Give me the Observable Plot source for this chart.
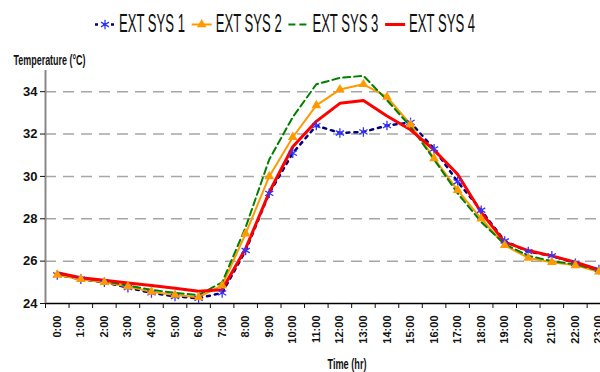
<!DOCTYPE html>
<html><head><meta charset="utf-8">
<script src="https://cdn.jsdelivr.net/npm/d3@7"></script>
<script src="https://cdn.jsdelivr.net/npm/@observablehq/plot@0.6"></script>
<style>
html,body{margin:0;padding:0;background:#fff;overflow:hidden;width:600px;height:372px}
svg{display:block}
</style></head><body>
<div id="legend"></div><div id="chart"></div>
<script>
// ---- data ----
const hours = d3.range(24);
const timeLabels = hours.map(h => h + ":00");
const seriesNames = ["EXT SYS 1", "EXT SYS 2", "EXT SYS 3", "EXT SYS 4"];
const sys1 = [25.35, 25.15, 25.0, 24.75, 24.5, 24.33, 24.25, 24.5, 26.5, 29.2, 31.1, 32.4, 32.05, 32.1, 32.4, 32.55, 31.3, 29.75, 28.4, 26.95, 26.45, 26.25, 25.9, 25.6];
const sys2 = [25.35, 25.15, 25.0, 24.8, 24.55, 24.4, 24.3, 24.85, 27.3, 30.0, 31.85, 33.35, 34.1, 34.35, 33.75, 32.45, 30.85, 29.35, 28.0, 26.75, 26.15, 25.95, 25.8, 25.5];
const sys3 = [25.4, 25.2, 25.05, 24.85, 24.65, 24.5, 24.4, 25.0, 27.6, 30.8, 32.8, 34.35, 34.65, 34.75, 33.6, 32.35, 30.8, 29.2, 27.85, 26.8, 26.25, 26.0, 25.85, 25.55];
const sys4 = [25.45, 25.22, 25.1, 24.97, 24.85, 24.72, 24.58, 24.65, 26.6, 29.25, 31.4, 32.6, 33.45, 33.58, 32.85, 32.2, 31.25, 30.1, 28.3, 26.9, 26.5, 26.25, 25.95, 25.6];
const yTicks = [24, 26, 28, 30, 32, 34];
const yLabel = "Temperature (°C)";
const xLabel = "Time (hr)";

// ---- styles ----
const styles = [
  {stroke: "#000080", width: 2.5, dash: "3,5", marker: "asterisk", markerColor: "#3333ff"},
  {stroke: "#ff9900", width: 2, dash: null, marker: "triangle", markerColor: "#ff9900"},
  {stroke: "#008000", width: 2, dash: "7,4", marker: null},
  {stroke: "#ff0000", width: 3, dash: null, marker: null}
];
const font = "'Liberation Sans', Arial, sans-serif";
const narrow = "'Liberation Sans Narrow', 'Arial Narrow', 'Liberation Sans', sans-serif";

const allSeries = [sys1, sys2, sys3, sys4];
const rows = allSeries.map(arr => arr.map((v, i) => ({hour: hours[i], temp: v})));

// ---- legend ----
const lg = d3.create("svg").attr("width", 600).attr("height", 45)
  .attr("font-family", font);
document.getElementById("legend").appendChild(lg.node());
seriesNames.forEach((name, k) => {
  const s = styles[k];
  const g = lg.append("g").attr("transform", `translate(${95 + k * 96.7},0)`);
  g.append("line").attr("x1", 0).attr("x2", 20).attr("y1", 24.5).attr("y2", 24.5)
    .attr("stroke", s.stroke).attr("stroke-width", s.width)
    .attr("stroke-dasharray", s.dash);
  if (s.marker === "asterisk") {
    g.append("path").attr("d", d3.symbol(d3.symbolAsterisk, 60)())
      .attr("transform", "translate(10,24.5)").attr("stroke", s.markerColor)
      .attr("stroke-width", 1.3).attr("fill", "none");
  } else if (s.marker === "triangle") {
    g.append("path").attr("d", d3.symbol(d3.symbolTriangle, 40)())
      .attr("transform", "translate(10,24.5)").attr("fill", s.markerColor);
  }
  const t = g.append("text").attr("font-size", 25.5).attr("fill", "#111").text(name);
  const len = t.node().getComputedTextLength() || 129;
  t.attr("transform", `translate(24,32) scale(${66 / len},1)`);
});

// ---- chart ----
const marks = [
  Plot.ruleY(yTicks.filter(t => t > 24), {stroke: "#a6a6a6", strokeWidth: 1.5, strokeDasharray: "11,7"}),
  Plot.ruleY([24], {stroke: "#000", strokeWidth: 1.5}),
  Plot.ruleX([-0.5], {y1: 24, y2: 35, stroke: "#888", strokeWidth: 2}),
  Plot.axisY({ticks: yTicks, tickSize: 5, tickPadding: 3, tickFormat: d => String(d),
    fontFamily: narrow, fontWeight: "bold", fontSize: 13, label: null}),
  Plot.axisX({ticks: d3.range(25).map(i => i - 0.5), tickSize: 5, tickFormat: () => "", label: null}),
  Plot.axisX({ticks: hours, tickSize: 0, tickPadding: 12, tickRotate: -90,
    tickFormat: i => timeLabels[i], fontFamily: font, fontWeight: "bold", fontSize: 11, label: null})
];
styles.forEach((s, k) => {
  marks.push(Plot.line(rows[k], {x: "hour", y: "temp", stroke: s.stroke, strokeWidth: s.width,
    strokeDasharray: s.dash || undefined}));
});
styles.forEach((s, k) => {
  if (s.marker === "asterisk") marks.push(Plot.dot(rows[k], {x: "hour", y: "temp", symbol: "asterisk", r: 4.5, stroke: s.markerColor, strokeWidth: 1.3}));
  if (s.marker === "triangle") marks.push(Plot.dot(rows[k], {x: "hour", y: "temp", symbol: "triangle", r: 3.6, fill: s.markerColor, stroke: "none"}));
});
marks.push(Plot.text([yLabel], {frameAnchor: "top-left", dx: -32, dy: -6, lineAnchor: "bottom",
  textAnchor: "start", fontWeight: "bold", fontSize: 15, fontFamily: font}));
marks.push(Plot.text([xLabel], {frameAnchor: "bottom", dx: 24, dy: 65, lineAnchor: "bottom",
  textAnchor: "middle", fontWeight: "bold", fontSize: 14, fontFamily: font}));

const chart = Plot.plot({
  width: 600, height: 327,
  marginLeft: 45, marginRight: 0, marginTop: 25, marginBottom: 69,
  style: {fontFamily: font, background: "white", color: "#111"},
  x: {type: "linear", domain: [-0.5, 23.5], range: [45, 45 + 24 * 23.55], axis: null, label: null},
  y: {domain: [24, 35], axis: null, label: null},
  marks
});
chart.querySelectorAll("text").forEach(t => {
  if (t.textContent === yLabel) { t.setAttribute("textLength", 72); t.setAttribute("lengthAdjust", "spacingAndGlyphs"); }
  if (t.textContent === xLabel) { t.setAttribute("textLength", 39); t.setAttribute("lengthAdjust", "spacingAndGlyphs"); }
});
document.getElementById("chart").appendChild(chart);
</script>
</body></html>
